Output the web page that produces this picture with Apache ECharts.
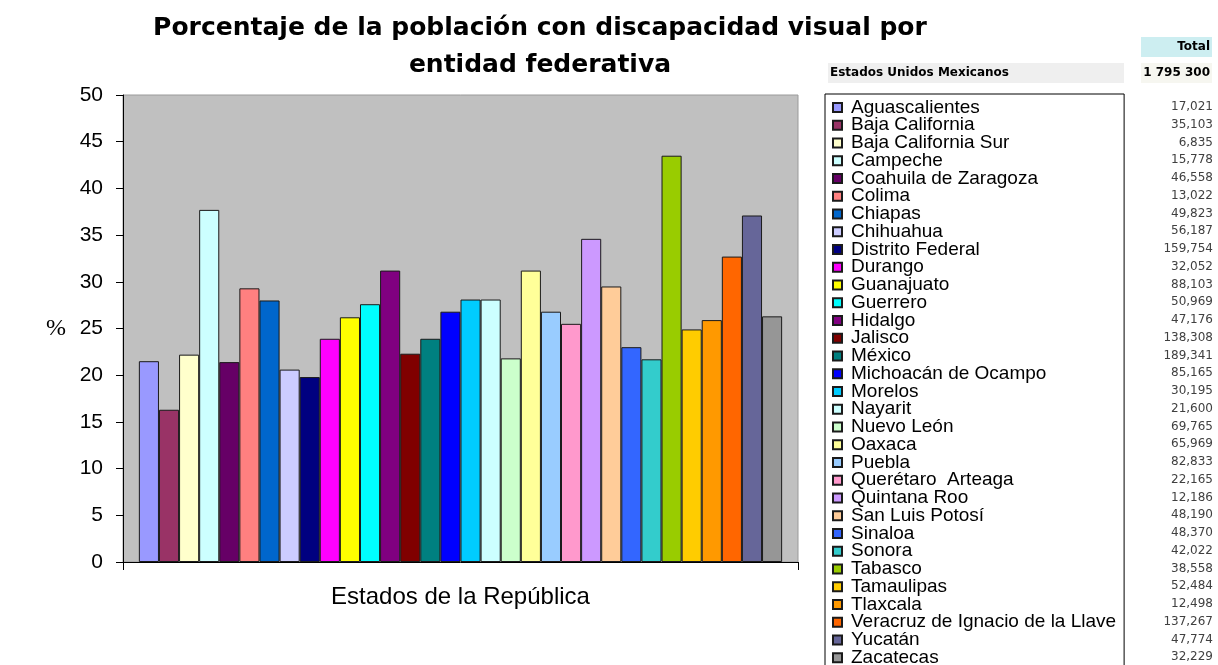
<!DOCTYPE html>
<html>
<head>
<meta charset="utf-8">
<script src="https://cdn.jsdelivr.net/npm/echarts@6/dist/echarts.min.js"></script>
<style>
  html, body { margin: 0; padding: 0; background: #ffffff; }
  #chart { width: 1218px; height: 665px; }
</style>
</head>
<body>
<div id="chart"></div>
<script>
// Entidades federativas, in legend / bar order
const estados = [
  'Aguascalientes', 'Baja California', 'Baja California Sur', 'Campeche',
  'Coahuila de Zaragoza', 'Colima', 'Chiapas', 'Chihuahua', 'Distrito Federal',
  'Durango', 'Guanajuato', 'Guerrero', 'Hidalgo', 'Jalisco', 'México',
  'Michoacán de Ocampo', 'Morelos', 'Nayarit', 'Nuevo León', 'Oaxaca', 'Puebla',
  'Querétaro  Arteaga', 'Quintana Roo', 'San Luis Potosí', 'Sinaloa', 'Sonora',
  'Tabasco', 'Tamaulipas', 'Tlaxcala', 'Veracruz de Ignacio de la Llave',
  'Yucatán', 'Zacatecas'
];

// Porcentaje de la población con discapacidad visual
const porcentajes = [
  21.5, 16.3, 22.2, 37.7, 21.4, 29.3, 28.0, 20.6, 19.8, 23.9, 26.2, 27.6, 31.2,
  22.3, 23.9, 26.8, 28.1, 28.1, 21.8, 31.2, 26.8, 25.5, 34.6, 29.5, 23.0, 21.7,
  43.5, 24.9, 25.9, 32.7, 37.1, 26.3
];

// Total de personas con discapacidad por entidad
const totales = [
  17021, 35103, 6835, 15778, 46558, 13022, 49823, 56187, 159754, 32052, 88103,
  50969, 47176, 138308, 189341, 85165, 30195, 21600, 69765, 65969, 82833, 22165,
  12186, 48190, 48370, 42022, 38558, 52484, 12498, 137267, 47774, 32229
];

const totalNacionalEtiqueta = 'Estados Unidos Mexicanos';
const totalNacional = '1 795 300';

const colores = [
  '#9999FF', '#993366', '#FFFFCC', '#CCFFFF', '#660066', '#FF8080', '#0066CC',
  '#CCCCFF', '#000080', '#FF00FF', '#FFFF00', '#00FFFF', '#800080', '#800000',
  '#008080', '#0000FF', '#00CCFF', '#CCFFFF', '#CCFFCC', '#FFFF99', '#99CCFF',
  '#FF99CC', '#CC99FF', '#FFCC99', '#3366FF', '#33CCCC', '#99CC00', '#FFCC00',
  '#FF9900', '#FF6600', '#666699', '#969696'
];

const yTicks = { min: 0, max: 50, interval: 5 };

const FONT = '"Liberation Sans", Arial, sans-serif';
const WIDE = '"DejaVu Sans", Verdana, sans-serif';

const chart = echarts.init(document.getElementById('chart'), null, { renderer: 'canvas' });

// One series per state, all in a single category cluster
const series = estados.map((nombre, i) => ({
  name: nombre,
  type: 'bar',
  data: [porcentajes[i]],
  barGap: '0%',
  barCategoryGap: '4.7%',
  itemStyle: { color: colores[i], borderColor: '#1a1a1a', borderWidth: 1 },
  emphasis: { disabled: true }
}));

// Totals column next to the legend rows
const rowTop = 107;
const rowPitch = 17.75;
const totalesGraphic = totales.map((v, i) => ({
  type: 'text',
  x: 1213,
  y: rowTop + i * rowPitch,
  style: {
    text: v.toLocaleString('en-US'),
    font: '12px ' + WIDE,
    fill: '#404040',
    textAlign: 'right',
    textVerticalAlign: 'middle'
  }
}));

const option = {
  backgroundColor: '#ffffff',
  animation: false,
  color: colores,
  title: {
    text: 'Porcentaje de la población con discapacidad visual por\nentidad federativa',
    left: 535,
    top: 5,
    textAlign: 'center',
    textStyle: {
      fontFamily: WIDE,
      fontSize: 25,
      fontWeight: 'bold',
      color: '#000000',
      lineHeight: 37
    }
  },
  grid: {
    left: 123,
    top: 95,
    width: 675,
    height: 467,
    show: true,
    backgroundColor: '#C0C0C0',
    borderColor: '#9a9a9a',
    borderWidth: 1
  },
  xAxis: {
    type: 'category',
    data: [''],
    boundaryGap: true,
    axisLine: { lineStyle: { color: '#000000', width: 1 } },
    axisTick: { show: true, length: 8, lineStyle: { color: '#000000' } },
    axisLabel: { show: false },
    name: 'Estados de la República',
    nameLocation: 'middle',
    nameGap: 23,
    nameTextStyle: { fontFamily: FONT, fontSize: 24, color: '#000000' }
  },
  yAxis: {
    type: 'value',
    min: yTicks.min,
    max: yTicks.max,
    interval: yTicks.interval,
    axisLine: { show: true, lineStyle: { color: '#000000', width: 1 } },
    axisTick: { show: true, length: 7, lineStyle: { color: '#000000' } },
    splitLine: { show: false },
    axisLabel: { fontFamily: FONT, fontSize: 21, color: '#000000', margin: 20 },
    name: '%',
    nameLocation: 'middle',
    nameRotate: 0,
    nameGap: 57,
    nameTextStyle: { fontFamily: '"Liberation Serif", "Times New Roman", serif', fontSize: 24, color: '#000000' }
  },
  legend: {
    orient: 'vertical',
    left: 825,
    top: 94,
    height: 640,
    padding: [4, 8, 4, 7],
    itemWidth: 9,
    itemHeight: 9,
    itemGap: -1.25,
    icon: 'rect',
    selectedMode: false,
    borderColor: '#000000',
    borderWidth: 1,
    backgroundColor: '#ffffff',
    textStyle: {
      fontFamily: FONT,
      fontSize: 19,
      color: '#000000',
      padding: [0, 0, 0, 4]
    },
    data: estados
  },
  graphic: [
    // header cells of the totals table
    { type: 'rect', shape: { x: 1141, y: 37, width: 71, height: 20 }, style: { fill: '#CDEEF1' } },
    { type: 'text', x: 1210, y: 47, style: { text: 'Total', font: 'bold 12px ' + WIDE, fill: '#000', textAlign: 'right', textVerticalAlign: 'middle' } },
    { type: 'rect', shape: { x: 828, y: 63, width: 296, height: 20 }, style: { fill: '#EFEFEF' } },
    { type: 'text', x: 830, y: 73, style: { text: totalNacionalEtiqueta, font: 'bold 12px ' + WIDE, fill: '#000', textAlign: 'left', textVerticalAlign: 'middle' } },
    { type: 'rect', shape: { x: 1141, y: 63, width: 71, height: 20 }, style: { fill: '#F6F6F0' } },
    { type: 'text', x: 1210, y: 73, style: { text: totalNacional, font: 'bold 12px ' + WIDE, fill: '#000', textAlign: 'right', textVerticalAlign: 'middle' } }
  ].concat(totalesGraphic),
  series: series
};

chart.setOption(option);
</script>
</body>
</html>
